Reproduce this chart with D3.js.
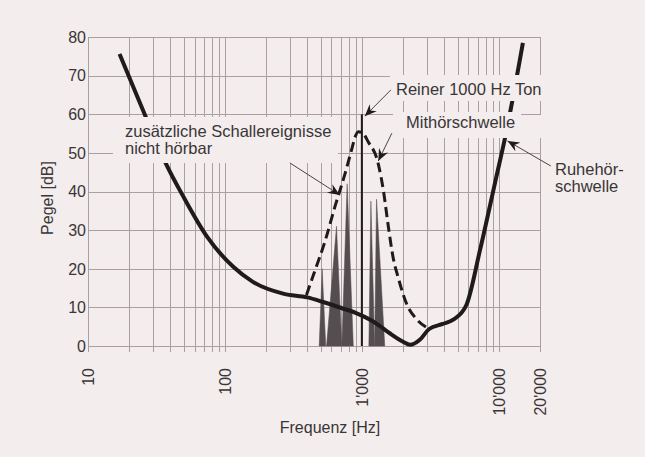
<!DOCTYPE html>
<html>
<head>
<meta charset="utf-8">
<script src="https://cdn.jsdelivr.net/npm/d3@7"></script>
<style>
  html, body { margin: 0; padding: 0; background: #f3eded; }
  svg { display: block; font-family: "Liberation Sans", Arial, Helvetica, sans-serif; }
</style>
</head>
<body>
<div id="chart"></div>
<script>
// --- Data ---
const xTickValues = [10, 100, 1000, 10000, 20000];
const xTickLabels = ["10", "100", "1'000", "10'000", "20'000"];
const yTickValues = [0, 10, 20, 30, 40, 50, 60, 70, 80];

// Ruhehörschwelle (threshold in quiet)
const ruheFreq = [17, 27, 37, 50, 74, 115, 160, 270, 400, 520, 700, 900, 1150, 1400, 1600, 2000, 2250, 2650, 3100, 3900, 4650, 5800, 7300, 9600, 11100, 15000];
const ruheDb   = [75.6, 58.5, 47.3, 38.5, 28.3, 20.5, 16.6, 13.5, 12.6, 11.4, 9.9, 8.6, 6.8, 4.8, 3.3, 1.1, 0.3, 1.6, 4.4, 5.7, 6.8, 10.6, 24.9, 43.8, 53.8, 78.5];

// Mithörschwelle (masking threshold)
const mitFreq = [394, 454, 537, 635, 752, 840, 890, 940, 1020, 1112, 1315, 1440, 1560, 1690, 1850, 2118, 2500, 2967];
const mitDb   = [13.2, 19.5, 27, 36, 44.5, 50.7, 54, 55.5, 55, 52.9, 47.3, 40, 31, 23, 17.5, 11, 7, 4.8];

// Masked tones (spikes)
const spikeFreq = [513, 653, 781, 1164, 1280];
const spikeLo   = [488, 552, 714, 1125, 1240];
const spikeHi   = [545, 714, 866, 1240, 1470];
const spikeDb   = [20, 31, 42, 37.5, 38];

// Pure 1000 Hz tone
const toneFreq = 1000;
const toneDb = 60;

// Annotation arrows: [fromFreq, fromDb, toFreq, toDb]
const arrowReiner = [1629, 66.3, 1050, 59.5];
const arrowMithoer = [1656, 55.1, 1318, 47.9];
const arrowZusatz = [298, 47.4, 690, 39.1];
const arrowRuhe = [23990, 46.6, 11575, 53.1];

// --- Dimensions ---
const width = 645;
const height = 457;
const paper = "#f3eded";
const ink = "#3a3536";
const gridColor = "#ab9ea4";

const svg = d3.select("#chart").append("svg")
  .attr("width", width)
  .attr("height", height)
  .attr("viewBox", [0, 0, width, height]);

// --- Scales ---
const x = d3.scaleLog().domain([10, 20000]).range([88, 540]);
const y = d3.scaleLinear().domain([0, 80]).range([346, 37]);

// --- Grid ---
const grid = svg.append("g").attr("stroke", gridColor).attr("stroke-width", 1);

grid.selectAll("line.v")
  .data(x.ticks())
  .join("line")
  .attr("class", "v")
  .attr("x1", d => Math.round(x(d)) + 0.5)
  .attr("x2", d => Math.round(x(d)) + 0.5)
  .attr("y1", y(80))
  .attr("y2", y(0) + 6);

grid.selectAll("line.h")
  .data(yTickValues)
  .join("line")
  .attr("class", "h")
  .attr("x1", x(10))
  .attr("x2", x(20000))
  .attr("y1", d => Math.round(y(d)) + 0.5)
  .attr("y2", d => Math.round(y(d)) + 0.5);

// --- Axis labels ---
svg.append("g")
  .selectAll("text")
  .data(yTickValues)
  .join("text")
  .attr("x", 86)
  .attr("y", d => y(d))
  .attr("dy", "0.36em")
  .attr("text-anchor", "end")
  .attr("font-size", "16px")
  .attr("fill", ink)
  .text(d => d);

svg.append("g")
  .selectAll("text")
  .data(xTickValues)
  .join("text")
  .attr("transform", d => `translate(${x(d)}, 368) rotate(-90)`)
  .attr("dy", "0.36em")
  .attr("text-anchor", "end")
  .attr("font-size", "16px")
  .attr("fill", ink)
  .text((d, i) => xTickLabels[i]);

svg.append("text")
  .attr("transform", "translate(53, 198) rotate(-90)")
  .attr("text-anchor", "middle")
  .attr("font-size", "16px")
  .attr("fill", ink)
  .text("Pegel [dB]");

svg.append("text")
  .attr("x", 330)
  .attr("y", 433)
  .attr("text-anchor", "middle")
  .attr("font-size", "16px")
  .attr("fill", ink)
  .text("Frequenz [Hz]");

// --- Spikes ---
const spikePath = d3.line().x(p => x(p[0])).y(p => y(p[1]));
svg.append("g")
  .selectAll("path")
  .data(spikeFreq.map((f, i) => [[spikeLo[i], 0], [f, spikeDb[i]], [spikeHi[i], 0]]))
  .join("path")
  .attr("d", d => spikePath(d) + "Z")
  .attr("fill", "#554e50")
  .attr("stroke", "#554e50")
  .attr("stroke-width", 0.5);

// --- Pure tone ---
svg.append("line")
  .attr("x1", x(toneFreq))
  .attr("x2", x(toneFreq))
  .attr("y1", y(0))
  .attr("y2", y(toneDb))
  .attr("stroke", "#1f1b1c")
  .attr("stroke-width", 2);

// --- Curves ---
const curve = d3.line()
  .x(d => x(d[0]))
  .y(d => y(d[1]))
  .curve(d3.curveMonotoneX);

svg.append("path")
  .attr("d", curve(mitFreq.map((f, i) => [f, mitDb[i]])))
  .attr("fill", "none")
  .attr("stroke", "#1f1b1c")
  .attr("stroke-width", 3)
  .attr("stroke-dasharray", "10,5");

svg.append("path")
  .attr("d", curve(ruheFreq.map((f, i) => [f, ruheDb[i]])))
  .attr("fill", "none")
  .attr("stroke", "#1f1b1c")
  .attr("stroke-width", 4);

// --- Label backgrounds (hide grid and curves behind text) ---
const boxes = [
  [113, 117, 225, 46],
  [390, 75, 156, 26],
  [393, 112, 128, 26],
  [521, 115, 25, 23]
];
svg.append("g")
  .selectAll("rect")
  .data(boxes)
  .join("rect")
  .attr("x", d => d[0])
  .attr("y", d => d[1])
  .attr("width", d => d[2])
  .attr("height", d => d[3])
  .attr("fill", paper);

// --- Annotations ---
svg.append("defs").append("marker")
  .attr("id", "head")
  .attr("viewBox", "-12 -6 14 12")
  .attr("refX", 0)
  .attr("refY", 0)
  .attr("markerWidth", 14)
  .attr("markerHeight", 12)
  .attr("markerUnits", "userSpaceOnUse")
  .attr("orient", "auto")
  .append("path")
  .attr("d", "M0,0 L-12,-5 L-8,0 L-12,5 Z")
  .attr("fill", "#1f1b1c");

svg.append("g")
  .selectAll("line")
  .data([arrowReiner, arrowMithoer, arrowZusatz, arrowRuhe])
  .join("line")
  .attr("x1", d => x(d[0]))
  .attr("y1", d => y(d[1]))
  .attr("x2", d => x(d[2]))
  .attr("y2", d => y(d[3]))
  .attr("stroke", "#4a4445")
  .attr("stroke-width", 1)
  .attr("marker-end", "url(#head)");

const labels = [
  { text: "zusätzliche Schallereignisse", x: 125, y: 137 },
  { text: "nicht hörbar", x: 125, y: 154 },
  { text: "Reiner 1000 Hz Ton", x: 396, y: 95 },
  { text: "Mithörschwelle", x: 406, y: 128 },
  { text: "Ruhehör-", x: 555, y: 175 },
  { text: "schwelle", x: 555, y: 192 }
];
svg.append("g")
  .selectAll("text")
  .data(labels)
  .join("text")
  .attr("x", d => d.x)
  .attr("y", d => d.y)
  .attr("font-size", "16.5px")
  .attr("fill", ink)
  .text(d => d.text);
</script>
</body>
</html>
